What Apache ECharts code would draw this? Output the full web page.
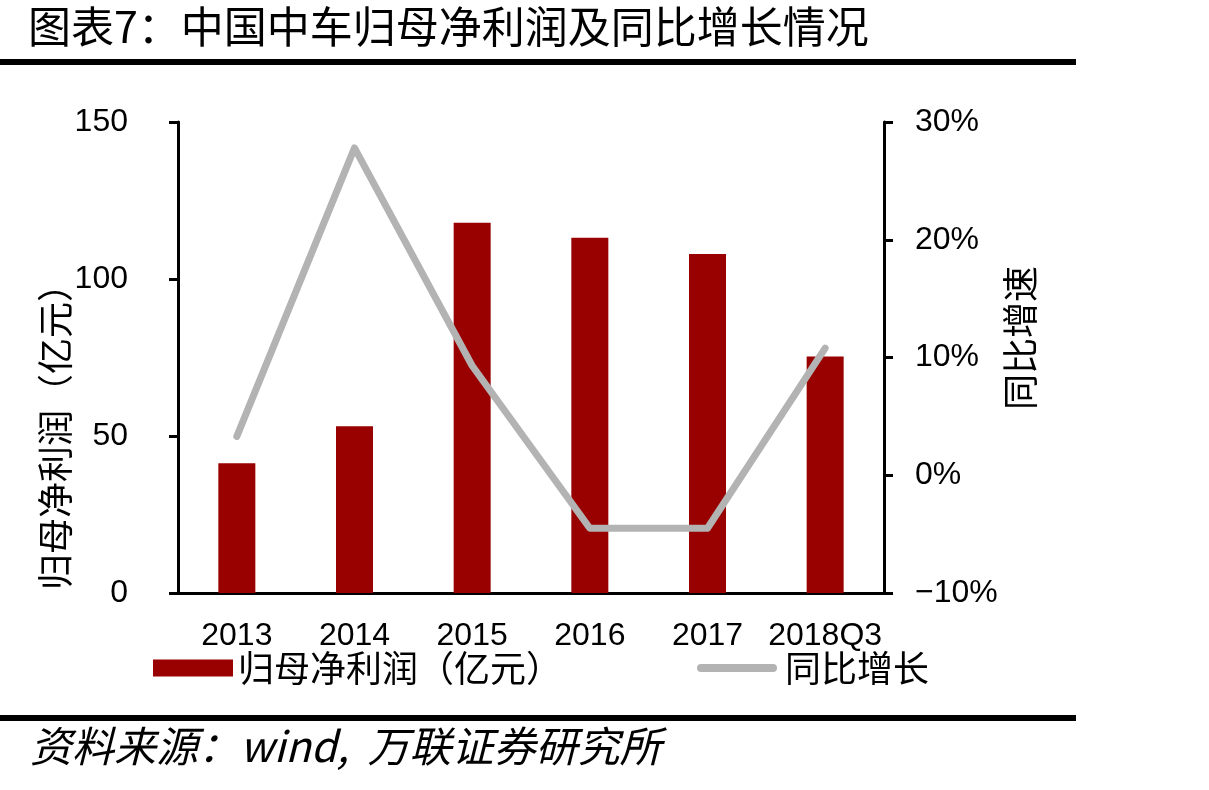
<!DOCTYPE html>
<html>
<head>
<meta charset="utf-8">
<script src="https://cdn.jsdelivr.net/npm/echarts@6/dist/echarts.min.js"></script>
<style>
	html, body { margin: 0; padding: 0; background: #fff; }
	#chart { width: 1209px; height: 790px; }
</style>
</head>
<body>
<div id="chart"></div>
<script>
	// 数据
	var categories = ['2013', '2014', '2015', '2016', '2017', '2018Q3'];
	var profit = [41.3, 53.1, 117.9, 113.1, 108.0, 75.3]; // 归母净利润（亿元）
	var growth = [3.3, 27.8, 9.3, -4.5, -4.5, 10.8];      // 同比增长 %
	var leftTicks = [0, 150, 50];   // min, max, interval
	var rightTicks = [-10, 30, 10];

	var cjk = '"Noto Sans CJK SC", sans-serif';
	var num = '"Liberation Sans", Arial, sans-serif';

	var chart = echarts.init(document.getElementById('chart'));
	var option = {
		animation: false,
		backgroundColor: '#fff',
		grid: { left: 178, right: 325, top: 122, bottom: 197 },
		legend: [{
			data: [{ name: '归母净利润（亿元）', icon: 'rect' }],
			left: 148, top: 645,
			itemWidth: 80, itemHeight: 17, itemGap: 5,
			textStyle: { fontFamily: cjk, fontSize: 36, color: '#000' }
		}, {
			data: [{ name: '同比增长', icon: 'path://M4,0 H76 A4,4 0 0 1 76,8 H4 A4,4 0 0 1 4,0 Z' }],
			left: 692, top: 645,
			itemWidth: 86, itemHeight: 8, itemGap: 5,
			textStyle: { fontFamily: cjk, fontSize: 36, color: '#000' }
		}],
		xAxis: [{
			type: 'category',
			data: categories,
			axisLine: { lineStyle: { color: '#000', width: 3 } },
			axisTick: { show: false },
			axisLabel: { color: '#000', fontFamily: num, fontSize: 32, margin: 27, interval: 0 }
		}],
		yAxis: [{
			type: 'value',
			min: leftTicks[0], max: leftTicks[1], interval: leftTicks[2],
			position: 'left',
			axisLine: { show: true, lineStyle: { color: '#000', width: 3 } },
			axisTick: { show: true, length: 9, lineStyle: { color: '#000', width: 3 } },
			axisLabel: { color: '#000', fontFamily: num, fontSize: 32, margin: 50 },
			splitLine: { show: false }
		}, {
			type: 'value',
			min: rightTicks[0], max: rightTicks[1], interval: rightTicks[2],
			position: 'right',
			axisLine: { show: true, lineStyle: { color: '#000', width: 3 } },
			axisTick: { show: true, length: 9, lineStyle: { color: '#000', width: 3 } },
			axisLabel: {
				color: '#000', fontFamily: num, fontSize: 32, margin: 31,
				formatter: function (v) { return (v < 0 ? '\u2212' + Math.abs(v) : v) + '%'; }
			},
			splitLine: { show: false }
		}],
		series: [{
			name: '归母净利润（亿元）',
			type: 'bar',
			data: profit,
			barWidth: 37,
			itemStyle: { color: '#990000' }
		}, {
			name: '同比增长',
			type: 'line',
			yAxisIndex: 1,
			data: growth,
			symbol: 'none',
			itemStyle: { color: '#b3b3b3' },
			lineStyle: { color: '#b3b3b3', width: 7, cap: 'round', join: 'round' },
			z: 3
		}],
		graphic: [{
			type: 'text', left: 28, top: 5,
			style: { text: '图表7：中国中车归母净利润及同比增长情况', font: '43px ' + cjk, fill: '#000' }
		}, {
			type: 'rect', shape: { x: 0, y: 59, width: 1076, height: 6 }, style: { fill: '#000' }
		}, {
			type: 'rect', shape: { x: 0, y: 715, width: 1076, height: 6 }, style: { fill: '#000' }
		}, {
			type: 'text', left: 30, top: 725,
			style: { text: '资料来源：wind,  万联证券研究所', font: 'italic 42px ' + cjk, fill: '#000' }
		}, {
			type: 'text', x: 55, y: 428, rotation: Math.PI / 2,
			style: { text: '归母净利润（亿元）', font: '36px ' + cjk, fill: '#000', align: 'center', verticalAlign: 'middle' }
		}, {
			type: 'text', x: 1020, y: 338, rotation: Math.PI / 2,
			style: { text: '同比增速', font: '36px ' + cjk, fill: '#000', align: 'center', verticalAlign: 'middle' }
		}]
	};
	chart.setOption(option);
</script>
</body>
</html>
